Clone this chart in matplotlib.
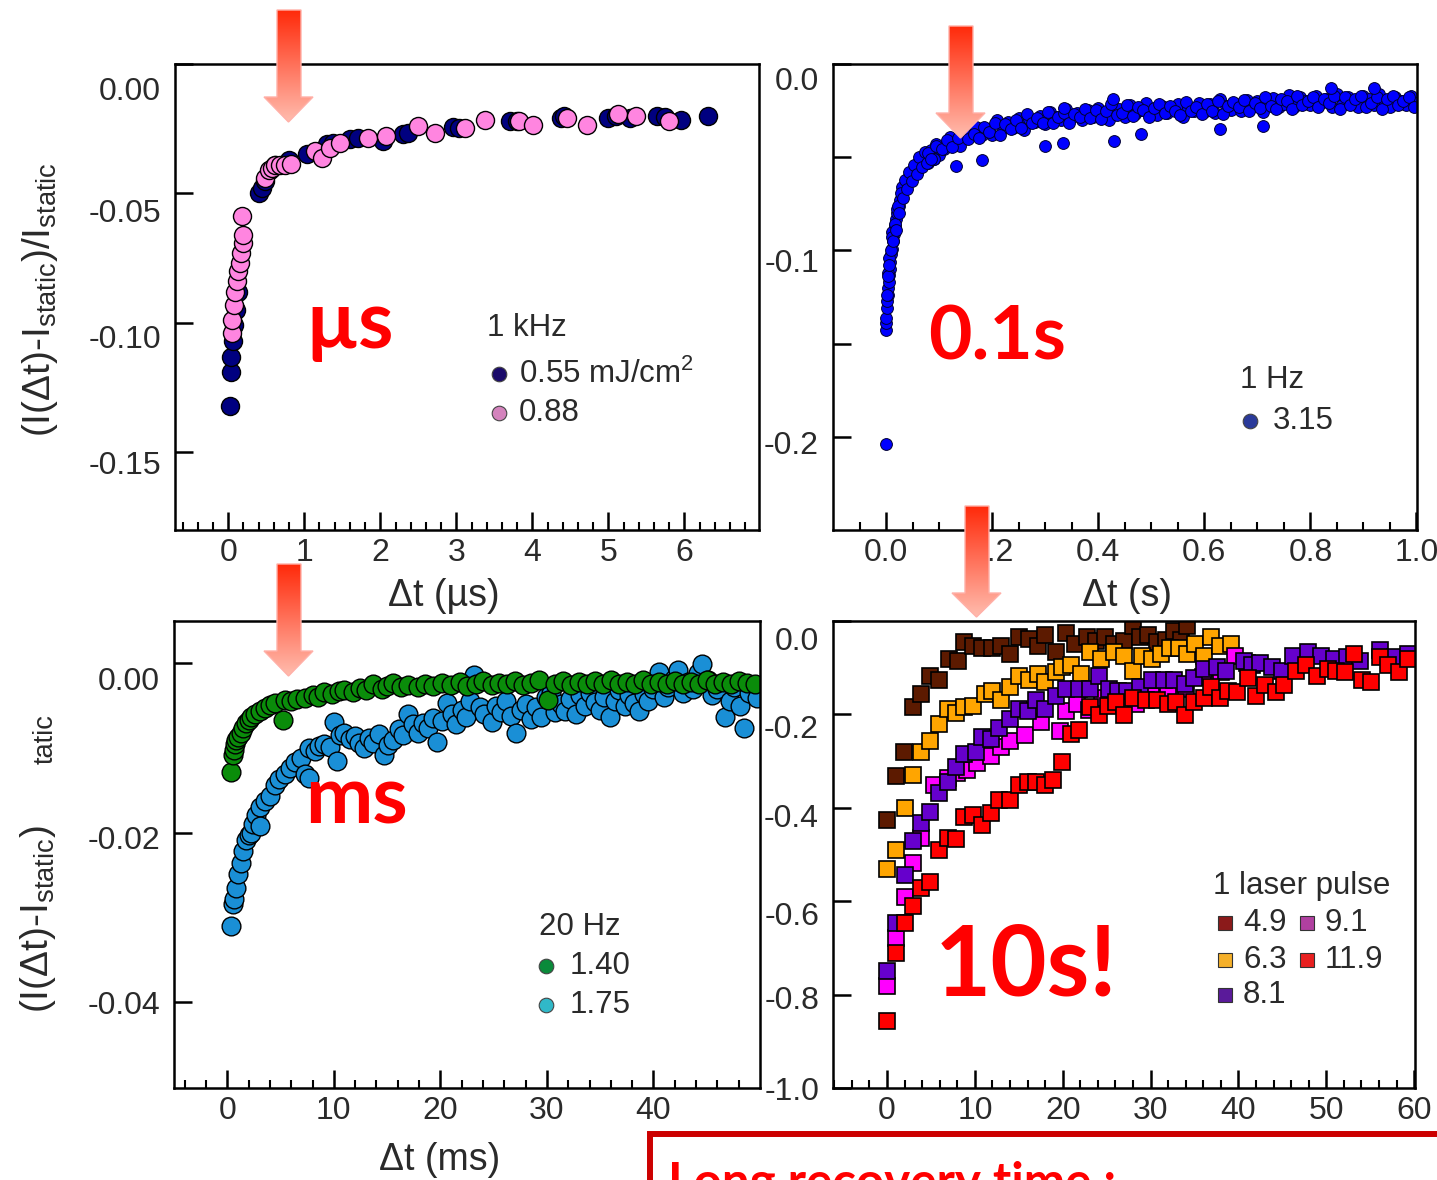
import numpy as np
import matplotlib
matplotlib.use('Agg')
import matplotlib.pyplot as plt
from matplotlib import transforms
from matplotlib.patches import Polygon, Rectangle
from matplotlib.colors import LinearSegmentedColormap

W, H = 1437, 1180
TXT = '#2a2a2a'

# ---- top left: 1 kHz, microseconds ----
tl_t_055 = [0.02, 0.03, 0.04, 0.06, 0.08, 0.10, 0.13, 0.40, 0.44, 0.48, 0.55, 0.62, 0.80,
            1.04, 1.30, 1.38, 1.60, 1.71, 2.04, 2.30, 2.37, 2.96, 3.03, 3.70, 3.80, 4.37,
            4.42, 5.00, 5.10, 5.29, 5.64, 5.75, 5.96, 6.31]
tl_v_055 = [-0.132, -0.119, -0.113, -0.107, -0.101, -0.095, -0.088, -0.050, -0.048, -0.045,
            -0.041, -0.039, -0.037, -0.0347, -0.031, -0.0304, -0.029, -0.0284, -0.0297,
            -0.027, -0.0265, -0.0245, -0.0246, -0.0222, -0.022, -0.0207, -0.020, -0.0207,
            -0.020, -0.0207, -0.020, -0.0205, -0.0215, -0.020]
tl_t_088 = [0.05, 0.05, 0.07, 0.09, 0.11, 0.13, 0.15, 0.17, 0.19, 0.20, 0.18, 0.49, 0.53,
            0.57, 0.62, 0.68, 0.75, 0.82, 1.14, 1.23, 1.34, 1.47, 1.84, 2.07, 2.50, 2.72,
            3.12, 3.38, 3.82, 4.01, 4.46, 4.72, 5.13, 5.36, 5.80]
tl_v_088 = [-0.104, -0.099, -0.093, -0.088, -0.084, -0.080, -0.077, -0.073, -0.069, -0.066,
            -0.0587, -0.044, -0.041, -0.040, -0.039, -0.039, -0.039, -0.0387, -0.0336,
            -0.0362, -0.0323, -0.0304, -0.0284, -0.0278, -0.0239, -0.0265, -0.0246,
            -0.0215, -0.0222, -0.0237, -0.0207, -0.0237, -0.0192, -0.020, -0.0222]

# ---- top right: 1 Hz, seconds ----
tr_t_early = [0.0, 0.0, 0.0, 0.0, 0.001, 0.002, 0.003, 0.004, 0.005, 0.006, 0.007, 0.008,
              0.010, 0.011, 0.013, 0.015, 0.017, 0.019, 0.021, 0.024, 0.027, 0.030, 0.033,
              0.037, 0.041, 0.046, 0.050, 0.055, 0.060, 0.065, 0.070, 0.075, 0.003, 0.006,
              0.012, 0.020, 0.030, 0.045, 0.060, 0.080, 0.100,
              0.002, 0.004, 0.006, 0.009, 0.012, 0.014, 0.016, 0.018, 0.022, 0.025, 0.028,
              0.032, 0.035, 0.039, 0.043, 0.048, 0.052, 0.058, 0.063, 0.068, 0.073, 0.078,
              0.085, 0.090, 0.095]
tr_v_early = [-0.204, -0.1425, -0.139, -0.136, -0.131, -0.127, -0.124, -0.120, -0.117, -0.113,
              -0.110, -0.106, -0.102, -0.099, -0.095, -0.091, -0.087, -0.083, -0.080, -0.076,
              -0.073, -0.070, -0.067, -0.064, -0.061, -0.059, -0.057, -0.055, -0.053, -0.0515,
              -0.050, -0.049, -0.112, -0.104, -0.090, -0.078, -0.066, -0.063, -0.057, -0.053,
              -0.049,
              -0.124, -0.114, -0.108, -0.100, -0.093, -0.095, -0.086, -0.089, -0.076, -0.080,
              -0.069, -0.072, -0.062, -0.067, -0.058, -0.063, -0.054, -0.059, -0.050, -0.055,
              -0.047, -0.053, -0.046, -0.051, -0.043]
tr_t_band = [0.08, 0.09, 0.10, 0.11, 0.12, 0.13, 0.14, 0.15, 0.16, 0.17,
             0.18, 0.19, 0.20, 0.21, 0.22, 0.23, 0.24, 0.25, 0.26, 0.27,
             0.28, 0.29, 0.30, 0.31, 0.32, 0.33, 0.34, 0.35, 0.36, 0.37,
             0.38, 0.39, 0.40, 0.41, 0.42, 0.43, 0.44, 0.45, 0.46, 0.47,
             0.48, 0.49, 0.50, 0.51, 0.52, 0.53, 0.54, 0.55, 0.56, 0.57,
             0.58, 0.59, 0.60, 0.61, 0.62, 0.63, 0.64, 0.65, 0.66, 0.67,
             0.68, 0.69, 0.70, 0.71, 0.72, 0.73, 0.74, 0.75, 0.76, 0.77,
             0.78, 0.79, 0.80, 0.81, 0.82, 0.83, 0.84, 0.85, 0.86, 0.87,
             0.88, 0.89, 0.90, 0.91, 0.92, 0.93, 0.94, 0.95, 0.96, 0.97,
             0.98, 0.99, 1.00]
tr_v_band = [-0.0479, -0.0509, -0.0448, -0.0458, -0.0390, -0.0420, -0.0440, -0.0370, -0.0380, -0.0340,
             -0.0383, -0.0347, -0.0380, -0.0303, -0.0346, -0.0310, -0.0343, -0.0288, -0.0353, -0.0297,
             -0.0312, -0.0277, -0.0322, -0.0258, -0.0285, -0.0302, -0.0240, -0.0287, -0.0264, -0.0302,
             -0.0249, -0.0286, -0.0234, -0.0271, -0.0298, -0.0236, -0.0243, -0.0282, -0.0221, -0.0269,
             -0.0248, -0.0207, -0.0255, -0.0274, -0.0224, -0.0264, -0.0234, -0.0214, -0.0284, -0.0234,
             -0.0253, -0.0210, -0.0257, -0.0215, -0.0262, -0.0189, -0.0226, -0.0245, -0.0214, -0.0252,
             -0.0191, -0.0230, -0.0199, -0.0257, -0.0205, -0.0182, -0.0229, -0.0217, -0.0164, -0.0231,
             -0.0179, -0.0199, -0.0219, -0.0169, -0.0209, -0.0189, -0.0229, -0.0159, -0.0219, -0.0179,
             -0.0209, -0.0229, -0.0169, -0.0189, -0.0219, -0.0159, -0.0209, -0.0229, -0.0179, -0.0199,
             -0.0219, -0.0169, -0.0209]
tr_t_band2 = [0.085, 0.095, 0.105, 0.115, 0.125, 0.135, 0.145, 0.155, 0.165, 0.175,
              0.185, 0.195, 0.205, 0.215, 0.225, 0.235, 0.245, 0.255, 0.265, 0.275,
              0.285, 0.295, 0.305, 0.315, 0.325, 0.335, 0.345, 0.355, 0.365, 0.375,
              0.385, 0.395, 0.405, 0.415, 0.425, 0.435, 0.445, 0.455, 0.465, 0.475,
              0.485, 0.495, 0.505, 0.515, 0.525, 0.535, 0.545, 0.555, 0.565, 0.575,
              0.585, 0.595, 0.605, 0.615, 0.625, 0.635, 0.645, 0.655, 0.665, 0.675,
              0.685, 0.695, 0.705, 0.715, 0.725, 0.735, 0.745, 0.755, 0.765, 0.775,
              0.785, 0.795, 0.805, 0.815, 0.825, 0.835, 0.845, 0.855, 0.865, 0.875,
              0.885, 0.895, 0.905, 0.915, 0.925, 0.935, 0.945, 0.955, 0.965, 0.975,
              0.985, 0.995]
tr_v_band2 = [-0.0509, -0.0439, -0.0458, -0.0409, -0.0445, -0.0395, -0.0355, -0.0405, -0.0375, -0.0397,
              -0.0340, -0.0364, -0.0317, -0.0380, -0.0323, -0.0347, -0.0301, -0.0346, -0.0270, -0.0315,
              -0.0290, -0.0315, -0.0260, -0.0317, -0.0284, -0.0261, -0.0319, -0.0266, -0.0283, -0.0241,
              -0.0288, -0.0245, -0.0293, -0.0250, -0.0217, -0.0275, -0.0263, -0.0222, -0.0280, -0.0229,
              -0.0248, -0.0286, -0.0235, -0.0214, -0.0264, -0.0224, -0.0254, -0.0274, -0.0204, -0.0254,
              -0.0232, -0.0269, -0.0216, -0.0254, -0.0201, -0.0268, -0.0226, -0.0205, -0.0233, -0.0192,
              -0.0251, -0.0210, -0.0238, -0.0176, -0.0224, -0.0241, -0.0188, -0.0196, -0.0243, -0.0170,
              -0.0219, -0.0199, -0.0179, -0.0229, -0.0189, -0.0209, -0.0169, -0.0239, -0.0179, -0.0219,
              -0.0189, -0.0169, -0.0229, -0.0209, -0.0179, -0.0239, -0.0189, -0.0169, -0.0219, -0.0199,
              -0.0179, -0.0229]
tr_t_out = [0.131, 0.181, 0.299, 0.333, 0.43, 0.481, 0.629, 0.71, 0.838, 0.92, 0.427, 0.336]
tr_v_out = [-0.0548, -0.0513, -0.044, -0.0423, -0.0414, -0.0378, -0.0351, -0.0333, -0.0127,
            -0.013, -0.019, -0.0235]

# ---- bottom left: 20 Hz, milliseconds ----
bl_t_140 = [0.36, 0.5, 0.6, 0.75, 0.83, 1.0, 1.29, 1.5, 1.75, 2.0,
            2.2, 2.6, 3.1, 3.5, 4.0, 4.5, 5.2, 5.4, 6.0, 6.5,
            7.3, 8.0, 8.5, 9.1, 9.8, 10.5, 11.0, 11.8, 12.5, 13.0,
            13.7, 14.5, 15.0, 15.6, 16.3, 17.0, 17.9, 18.6, 19.3, 20.2,
            21.0, 21.8, 22.5, 23.3, 24.0, 24.8, 25.5, 26.3, 27.0, 27.8,
            28.5, 29.3, 30.1, 30.8, 31.5, 32.3, 33.0, 33.8, 34.5, 35.3,
            36.0, 36.8, 37.5, 38.3, 39.0, 39.8, 40.5, 41.3, 42.0, 42.8,
            43.5, 44.3, 45.0, 45.8, 46.5, 47.3, 48.0, 48.8, 49.5]
bl_v_140 = [-0.0128, -0.0108, -0.0102, -0.0095, -0.0091, -0.0087, -0.0082, -0.0077, -0.0071, -0.0067,
            -0.0063, -0.0060, -0.0056, -0.0053, -0.0049, -0.0047, -0.0067, -0.0043, -0.0045, -0.0042,
            -0.0041, -0.0038, -0.0040, -0.0034, -0.0036, -0.0033, -0.0032, -0.0034, -0.0029, -0.0031,
            -0.0025, -0.0030, -0.0027, -0.0023, -0.0028, -0.0026, -0.0028, -0.0024, -0.0027, -0.0023,
            -0.0026, -0.0022, -0.0027, -0.0024, -0.0021, -0.0026, -0.0023, -0.0025, -0.0021, -0.0026,
            -0.0023, -0.0020, -0.0043, -0.0024, -0.0021, -0.0026, -0.0022, -0.0025, -0.0021, -0.0024,
            -0.0020, -0.0025, -0.0022, -0.0024, -0.0020, -0.0025, -0.0022, -0.0024, -0.0021, -0.0025,
            -0.0022, -0.0024, -0.0020, -0.0024, -0.0022, -0.0025, -0.0021, -0.0023, -0.0025]
bl_t_175 = [0.36, 0.5, 0.6, 0.83, 1.05, 1.29, 1.5, 1.75, 2.0, 2.2,
            2.45, 2.67, 3.1, 3.1, 3.5, 4.0, 4.5, 4.9, 5.4, 5.9,
            6.4, 6.9, 7.3, 7.7, 7.7, 8.2, 8.6, 9.1, 9.6, 10.0,
            10.3, 10.6, 11.0, 11.5, 12.0, 12.4, 12.8, 13.3, 13.7, 14.2,
            14.7, 15.1, 15.6, 16.1, 16.5, 17.0, 17.4, 17.9, 18.4, 18.8,
            19.3, 19.7, 20.2, 20.6, 21.1, 21.5, 22.0, 22.4, 22.8, 23.2,
            23.7, 24.1, 24.8, 25.2, 25.7, 26.2, 26.6, 27.1, 27.6, 28.0,
            28.5, 29.0, 29.4, 29.9, 30.4, 30.8, 31.3, 31.7, 32.2, 32.7,
            33.1, 33.6, 34.0, 34.5, 35.0, 35.4, 35.9, 36.4, 36.8, 37.3,
            37.7, 38.2, 38.6, 39.1, 39.5, 40.0, 40.5, 41.0, 41.4, 41.9,
            42.3, 42.8, 43.2, 43.7, 44.2, 44.6, 45.1, 45.5, 46.0, 46.7,
            47.2, 47.6, 48.1, 48.5, 49.0, 49.7]
bl_v_175 = [-0.0310, -0.0285, -0.0279, -0.0266, -0.0249, -0.0236, -0.0222, -0.0209, -0.0203, -0.0200,
            -0.0190, -0.0179, -0.0170, -0.0192, -0.0163, -0.0157, -0.0144, -0.0137, -0.0131, -0.0124,
            -0.0117, -0.0112, -0.0131, -0.0135, -0.0100, -0.0104, -0.0098, -0.0095, -0.0099, -0.0069,
            -0.0115, -0.0085, -0.0082, -0.0090, -0.0086, -0.0094, -0.0100, -0.0088, -0.0094, -0.0084,
            -0.0108, -0.0096, -0.0091, -0.0078, -0.0085, -0.0060, -0.0072, -0.0082, -0.0070, -0.0076,
            -0.0065, -0.0093, -0.0068, -0.0047, -0.0060, -0.0072, -0.0055, -0.0064, -0.0045, -0.0014,
            -0.0052, -0.0060, -0.0069, -0.0050, -0.0058, -0.0045, -0.0062, -0.0082, -0.0055, -0.0048,
            -0.0066, -0.0052, -0.0064, -0.0040, -0.0035, -0.0058, -0.0048, -0.0056, -0.0042, -0.0060,
            -0.0038, -0.0050, -0.0035, -0.0046, -0.0055, -0.0040, -0.0064, -0.0045, -0.0032, -0.0050,
            -0.0038, -0.0047, -0.0056, -0.0036, -0.0044, -0.0030, -0.0010, -0.0040, -0.0028, -0.0018,
            -0.0008, -0.0035, -0.0022, -0.0030, -0.0012, -0.0001, -0.0020, -0.0038, -0.0030, -0.0064,
            -0.0045, -0.0028, -0.0050, -0.0077, -0.0035, -0.0041]

# ---- bottom right: single laser pulse, seconds ----
br_t_49 = [0, 1.0, 1.96, 2.95, 3.9, 4.9, 5.9, 7.1, 8.1, 8.8, 9.8, 10.8, 12.0, 13.0, 14.0, 15.0,
           16.2, 17.2, 17.95, 19.2, 20.4, 21.4, 22.8, 23.8, 24.8, 25.8, 27.0, 28.0, 28.8, 29.7,
           30.7, 31.7, 32.7, 33.5, 34.2]
br_v_49 = [-0.427, -0.332, -0.281, -0.185, -0.157, -0.118, -0.126, -0.082, -0.086, -0.046,
           -0.054, -0.058, -0.058, -0.054, -0.070, -0.034, -0.038, -0.054, -0.030, -0.066,
           -0.026, -0.050, -0.034, -0.042, -0.034, -0.050, -0.042, -0.011, -0.034, -0.030,
           -0.046, -0.040, -0.022, -0.040, -0.011]
br_t_63 = [0, 1.0, 2.0, 2.95, 3.9, 4.9, 5.9, 6.9, 7.9, 8.8, 9.8, 11.1, 12.0, 13.0, 14.0, 15.0,
           16.2, 17.2, 17.95, 19.2, 19.9, 20.9, 22.1, 23.1, 24.3, 25.8, 27.0, 28.0, 29.0, 30.2,
           31.2, 32.2, 33.2, 34.2, 35.1, 36.1, 36.9, 37.9, 39.1]
br_v_63 = [-0.531, -0.491, -0.400, -0.329, -0.281, -0.257, -0.221, -0.189, -0.197, -0.185,
           -0.181, -0.157, -0.150, -0.170, -0.142, -0.118, -0.126, -0.114, -0.130, -0.110,
           -0.098, -0.094, -0.114, -0.066, -0.082, -0.066, -0.074, -0.106, -0.074, -0.082,
           -0.070, -0.058, -0.058, -0.070, -0.050, -0.074, -0.034, -0.054, -0.050]
br_t_81 = [0, 1.0, 2.0, 2.95, 3.9, 4.9, 5.9, 6.9, 7.9, 8.8, 10.1, 10.8, 11.8, 12.8, 14.0, 15.0,
           16.0, 17.0, 18.0, 19.2, 20.4, 21.9, 23.1, 24.1, 25.3, 26.3, 27.3, 28.8, 30.2, 31.5,
           32.7, 33.9, 34.9, 36.1, 37.6, 38.6, 40.6, 41.6, 42.5, 43.8, 45.0, 46.2, 47.9, 49.4,
           50.9, 52.4, 53.8, 56.1, 57.8, 59.3]
br_v_81 = [-0.750, -0.646, -0.543, -0.471, -0.432, -0.408, -0.368, -0.344, -0.313, -0.285,
           -0.281, -0.249, -0.253, -0.229, -0.209, -0.189, -0.193, -0.170, -0.189, -0.161,
           -0.146, -0.146, -0.146, -0.118, -0.146, -0.150, -0.150, -0.142, -0.126, -0.126,
           -0.126, -0.134, -0.122, -0.102, -0.098, -0.106, -0.086, -0.094, -0.090, -0.098,
           -0.106, -0.074, -0.066, -0.074, -0.082, -0.078, -0.086, -0.062, -0.078, -0.070]
br_t_91 = [0, 1.0, 2.0, 2.95, 3.9, 5.4, 6.9, 8.0, 9.1, 10.2, 11.8, 13.0, 14.0, 15.7, 17.5,
           19.7, 20.4, 21.6, 23.0, 24.5, 26.0, 28.3, 30.0, 32.0, 34.0, 36.0, 38.0, 39.6, 41.0]
br_v_91 = [-0.781, -0.678, -0.591, -0.519, -0.464, -0.352, -0.336, -0.325, -0.320, -0.305,
           -0.289, -0.270, -0.257, -0.245, -0.217, -0.236, -0.193, -0.177, -0.190, -0.165,
           -0.170, -0.177, -0.160, -0.150, -0.145, -0.120, -0.110, -0.074, -0.090]
br_t_119 = [0, 1.0, 2.0, 2.95, 3.9, 4.9, 5.9, 6.9, 7.9, 8.8, 9.8, 10.8, 11.8, 12.8, 14.0, 15.0,
            16.0, 17.0, 18.0, 18.9, 19.9, 20.9, 21.9, 23.1, 24.1, 25.1, 26.1, 27.0, 28.0, 29.5,
            30.7, 32.0, 32.9, 33.9, 34.9, 36.1, 36.9, 37.9, 38.8, 39.8, 41.1, 42.0, 43.0, 44.3,
            45.2, 46.5, 47.7, 48.9, 50.2, 51.1, 52.1, 53.1, 54.1, 55.1, 56.1, 57.0, 58.3, 59.3]
br_v_119 = [-0.857, -0.710, -0.646, -0.610, -0.571, -0.559, -0.491, -0.464, -0.467, -0.420,
            -0.416, -0.436, -0.412, -0.384, -0.384, -0.352, -0.344, -0.344, -0.352, -0.340,
            -0.301, -0.241, -0.233, -0.185, -0.201, -0.181, -0.173, -0.201, -0.165, -0.170,
            -0.170, -0.177, -0.173, -0.201, -0.173, -0.165, -0.142, -0.165, -0.150, -0.153,
            -0.122, -0.161, -0.138, -0.153, -0.138, -0.106, -0.094, -0.118, -0.102, -0.106,
            -0.110, -0.070, -0.126, -0.130, -0.078, -0.094, -0.110, -0.082]


plt.rcParams['font.family'] = ['Liberation Sans', 'DejaVu Sans']
plt.rcParams['mathtext.default'] = 'regular'
plt.rcParams['axes.unicode_minus'] = False

fig = plt.figure(figsize=(W / 100, H / 100), dpi=100)


def px_rect(left, top, right, bottom):
    return [left / W, 1 - bottom / H, (right - left) / W, (bottom - top) / H]


def setup(ax, xlim, ylim, xmajor, xlabels, xminor, ymajor, ylabels, shifts):
    ax.set_xlim(*xlim)
    ax.set_ylim(*ylim)
    ax.set_xticks(xmajor)
    ax.set_xticklabels(xlabels)
    ax.set_xticks(xminor, minor=True)
    ax.set_yticks(ymajor)
    ax.set_yticklabels(ylabels)
    ax.tick_params(which='major', direction='in', length=13, width=1.8,
                   labelsize=23, labelcolor=TXT)
    ax.tick_params(axis='x', which='minor', direction='in', length=6, width=1.5)
    ax.tick_params(axis='x', pad=6)
    ax.tick_params(axis='y', pad=10)
    for s in ax.spines.values():
        s.set_linewidth(1.8)
    # the y labels of the original sit a little below their ticks
    for lab, sh in zip(ax.get_yticklabels(), shifts):
        off = transforms.ScaledTranslation(0, -sh / 100, fig.dpi_scale_trans)
        lab.set_transform(lab.get_transform() + off)


# top left
ax1 = fig.add_axes(px_rect(175, 64, 759, 530))
ax1.plot(tl_t_055, tl_v_055, 'o', ms=13, mfc='#000080', mec='black', mew=1.0)
ax1.plot(tl_t_088, tl_v_088, 'o', ms=13, mfc='#ff85e0', mec='black', mew=1.0)
setup(ax1, (-0.7, 6.98), (-0.18, 0.0), range(0, 7), [str(i) for i in range(7)],
      np.arange(-0.6, 6.9, 0.2), [0.0, -0.05, -0.10, -0.15],
      ['0.00', '-0.05', '-0.10', '-0.15'], [24, 17, 14, 10])

# top right
ax2 = fig.add_axes(px_rect(833, 64, 1417, 530))
ax2.plot(tr_t_early + tr_t_band + tr_t_band2 + tr_t_out,
         tr_v_early + tr_v_band + tr_v_band2 + tr_v_out, 'o', ms=8.5,
         mfc='#0000ff', mec='#000030', mew=0.7)
setup(ax2, (-0.1, 1.001), (-0.25, 0.0), [0.0, 0.2, 0.4, 0.6, 0.8, 1.0],
      ['0.0', '0.2', '0.4', '0.6', '0.8', '1.0'], np.arange(-0.05, 1.0, 0.05),
      [0.0, -0.05, -0.1, -0.15, -0.2], ['0.0', '', '-0.1', '', '-0.2'], [15, 0, 10, 0, 6])

# bottom left
ax3 = fig.add_axes(px_rect(174, 621, 760, 1088))
ax3.plot(bl_t_175, bl_v_175, 'o', ms=13.5, mfc='#1a8fd6', mec='black', mew=1.0)
ax3.plot(bl_t_140, bl_v_140, 'o', ms=13.5, mfc='#0a8c0a', mec='black', mew=1.0)
setup(ax3, (-5.0, 50.0), (-0.0502, 0.005), [0, 10, 20, 30, 40],
      ['0', '10', '20', '30', '40'], np.arange(-4, 50, 2),
      [0.0, -0.02, -0.04], ['0.00', '-0.02', '-0.04'], [15, 5, 1])

# bottom right
ax4 = fig.add_axes(px_rect(833, 621, 1415, 1088))
for tt, vv, col in [(br_t_49, br_v_49, '#5c1a00'), (br_t_63, br_v_63, '#ffa500'),
                    (br_t_91, br_v_91, '#ff00ff'), (br_t_81, br_v_81, '#6600cc'),
                    (br_t_119, br_v_119, '#ff0000')]:
    ax4.plot(tt, vv, 's', ms=12, mfc=col, mec='black', mew=1.2)
setup(ax4, (-6.15, 60.1), (-1.0, 0.0), [0, 10, 20, 30, 40, 50, 60],
      ['0', '10', '20', '30', '40', '50', '60'], np.arange(-6, 61, 2),
      [0.0, -0.2, -0.4, -0.6, -0.8, -1.0], ['0.0', '-0.2', '-0.4', '-0.6', '-0.8', '-1.0'],
      [18, 12, 8, 12, 3, 0])

# overlay for labels, legends, arrows and annotations (pixel coordinates)
ov = fig.add_axes([0, 0, 1, 1])
ov.set_autoscale_on(False)
ov.set_xlim(0, W)
ov.set_ylim(H, 0)
ov.axis('off')

ylab = '(I(Δt)-I$_{static}$)/I$_{static}$'
ov.text(40, 300, ylab, rotation=90, ha='center', va='center', fontsize=28, color=TXT)
# lower y label is partly hidden in the original
ov.text(38, 1013, '(I(Δt)-I$_{static}$)', rotation=90, rotation_mode='anchor',
        ha='left', va='center', fontsize=28, color=TXT)
ov.text(46, 764, 'tatic', rotation=90, rotation_mode='anchor',
        ha='left', va='center', fontsize=19.6, color=TXT)

ov.text(444, 596, 'Δt (µs)', ha='center', va='center', fontsize=27, color=TXT)
ov.text(1127, 596, 'Δt (s)', ha='center', va='center', fontsize=27, color=TXT)
ov.text(440, 1160, 'Δt (ms)', ha='center', va='center', fontsize=27, color=TXT)

# legends
LFS = 22.5
ov.text(487, 328, '1 kHz', va='center', fontsize=LFS, color=TXT)
ov.plot([499], [374], 'o', ms=10.5, mfc='#1a0a6a', mec='#444444', mew=0.8)
ov.text(519, 374, '0.55 mJ/cm$^2$', va='center', fontsize=LFS, color=TXT)
ov.plot([499], [413], 'o', ms=10.5, mfc='#d483bd', mec='#444444', mew=0.8)
ov.text(519, 413, '0.88', va='center', fontsize=LFS, color=TXT)

ov.text(1240, 380, '1 Hz', va='center', fontsize=LFS, color=TXT)
ov.plot([1250], [421], 'o', ms=10.5, mfc='#2a3a9a', mec='#444444', mew=0.8)
ov.text(1273, 421, '3.15', va='center', fontsize=LFS, color=TXT)

ov.text(539, 927, '20 Hz', va='center', fontsize=LFS, color=TXT)
ov.plot([546], [966], 'o', ms=10.5, mfc='#0a8a3a', mec='#444444', mew=0.8)
ov.text(570, 966, '1.40', va='center', fontsize=LFS, color=TXT)
ov.plot([546], [1005], 'o', ms=10.5, mfc='#30b8c8', mec='#444444', mew=0.8)
ov.text(570, 1005, '1.75', va='center', fontsize=LFS, color=TXT)

ov.text(1213, 886, '1 laser pulse', va='center', fontsize=LFS, color=TXT)
for (mx, my, col, lab) in [(1225, 923, '#8b1a1a', '4.9'), (1307, 923, '#b040a0', '9.1'),
                           (1225, 960, '#f5b02a', '6.3'), (1307, 960, '#e82020', '11.9'),
                           (1225, 995, '#5a1a9a', '8.1')]:
    ov.plot([mx], [my], 's', ms=10, mfc=col, mec='#333333', mew=0.8)
    ov.text(mx + 18, my, lab, va='center', fontsize=LFS, color=TXT)

# gradient arrows
arrow_cmap = LinearSegmentedColormap.from_list('arr', ['#ff2a0a', '#ffbcae'])


def grad_arrow(x0, x1, hx0, hx1, ytop, yhb, ytip):
    xm = (hx0 + hx1) / 2
    verts = [(x0, ytop), (x1, ytop), (x1, yhb), (hx1, yhb), (xm, ytip), (hx0, yhb), (x0, yhb)]
    poly = Polygon(verts, closed=True, facecolor='none', edgecolor='#ffb0a8', lw=1.0, zorder=6)
    ov.add_patch(poly)
    grad = np.linspace(0, 1, 200).reshape(-1, 1)
    im = ov.imshow(grad, cmap=arrow_cmap, extent=(hx0, hx1, ytip, ytop), origin='upper',
                   aspect='auto', zorder=5, interpolation='bilinear')
    im.set_clip_path(poly)


grad_arrow(277, 301, 264, 313, 10, 97, 122)
grad_arrow(949, 973, 936, 985, 26, 113, 138)
grad_arrow(277, 301, 264, 313, 564, 651, 676)
grad_arrow(965, 989, 952, 1001, 506, 593, 617)

# red annotations
red_kw = dict(color='#ff0000', fontweight='bold', family=['Lato', 'DejaVu Sans'],
              va='baseline', ha='left', zorder=7)
ov.text(305, 348, 'µs', fontsize=58, **red_kw)
ov.text(928, 360, '0.1s', fontsize=54, **red_kw)
ov.text(305, 823, 'ms', fontsize=58, **red_kw)
ov.text(935, 995, '10s!', fontsize=70, **red_kw)

# bottom text box
ov.add_patch(Rectangle((650, 1134), 900, 200, facecolor='white', edgecolor='#cc0000',
                       lw=4.3, zorder=8, clip_on=False))
ov.text(668, 1197, 'Long recovery time :', fontsize=35.5, clip_on=False, **dict(red_kw, zorder=9))

ov.set_xlim(0, W)
ov.set_ylim(H, 0)

fig.savefig('out.png', dpi=100)
